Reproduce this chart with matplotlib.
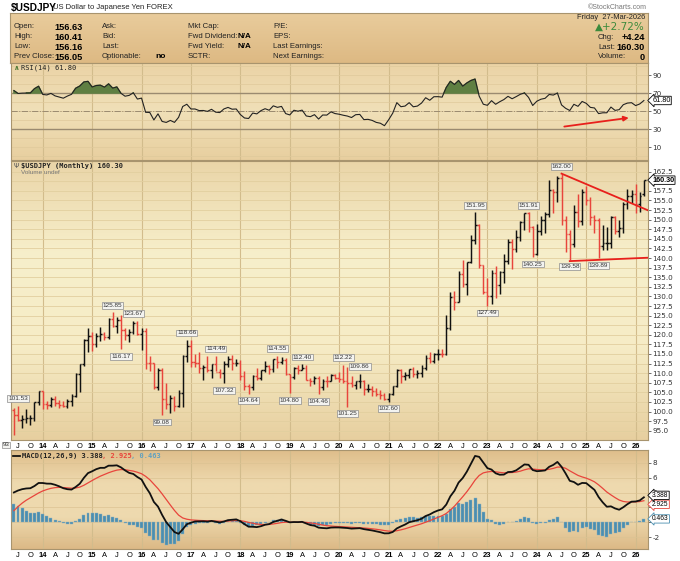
import numpy as np
import matplotlib.pyplot as plt
from matplotlib.colors import LinearSegmentedColormap

# monthly OHLC, Jun-2013 .. Mar-2026
opens = [100.45, 99.14, 97.87, 98.18, 98.26, 98.37, 102.44,
         105.31, 102.03, 101.80, 103.22, 102.22, 101.78, 101.33, 102.80, 104.08, 109.65, 112.31, 118.63,
         119.78, 117.49, 119.62, 120.12, 119.36, 124.12, 122.36, 123.94, 121.21, 119.86, 120.62, 123.08,
         120.22, 121.03, 112.68, 112.57, 106.52, 110.72, 103.20, 102.06, 103.43, 101.35, 104.82, 114.46,
         116.96, 112.79, 112.77, 111.39, 111.49, 110.78, 112.39, 110.26, 109.97, 112.51, 113.65, 112.53,
         112.67, 109.17, 106.67, 106.28, 109.34, 108.81, 110.70, 111.86, 111.03, 113.69, 112.92, 113.47,
         109.69, 108.88, 111.37, 110.86, 111.42, 108.28, 107.85, 108.76, 106.27, 108.08, 108.03, 109.48,
         108.66, 108.35, 107.89, 107.53, 106.90, 107.83, 107.93, 105.83, 105.91, 105.48, 104.66, 104.30,
         103.25, 104.68, 106.58, 110.72, 109.31, 109.59, 111.10, 109.72, 110.02, 111.29, 113.95, 113.17,
         115.08, 115.12, 114.99, 121.70, 129.84, 128.67, 135.72, 133.27, 138.96, 144.74, 148.71, 138.06,
         131.12, 130.09, 136.20, 132.86, 136.30, 139.34, 144.31, 142.29, 145.55, 149.37, 151.68, 148.21,
         141.04, 146.92, 149.98, 151.35, 157.80, 157.30, 160.88, 149.98, 146.17, 143.63, 152.03, 149.77,
         157.20, 155.18, 150.63, 149.96, 143.07, 144.02, 144.05, 150.72, 147.05, 147.90, 154.02, 156.17,
         156.70, 154.10, 156.63]
highs = [101.00, 101.53, 99.15, 100.62, 99.00, 102.59, 105.41,
         105.44, 102.84, 103.76, 104.13, 103.02, 102.80, 103.15, 104.49, 110.09, 112.47, 118.98, 121.85,
         120.83, 120.48, 122.03, 120.84, 124.45, 125.85, 124.58, 125.28, 121.75, 121.49, 123.67, 123.58,
         121.69, 121.70, 114.55, 112.68, 111.45, 111.43, 107.49, 104.32, 104.04, 105.53, 114.83, 118.66,
         118.61, 114.95, 115.51, 112.20, 114.37, 112.46, 114.49, 111.05, 113.26, 114.45, 114.73, 113.75,
         113.39, 110.48, 107.29, 109.56, 111.40, 110.90, 113.18, 112.15, 113.70, 114.55, 114.21, 113.83,
         109.90, 111.50, 112.14, 112.40, 112.00, 108.80, 109.32, 109.32, 108.48, 109.29, 109.73, 109.73,
         110.29, 112.22, 111.71, 109.38, 108.08, 109.86, 108.16, 107.05, 106.55, 106.11, 105.68, 104.75,
         104.95, 106.70, 110.96, 110.97, 110.20, 111.11, 111.66, 110.80, 112.08, 114.70, 115.52, 115.19,
         116.35, 116.34, 125.09, 131.25, 131.35, 136.71, 139.38, 139.07, 145.90, 151.95, 148.82, 138.18,
         134.77, 136.92, 137.91, 136.56, 140.93, 145.07, 144.91, 147.37, 149.71, 151.72, 151.91, 148.30,
         148.81, 150.89, 151.97, 160.21, 157.99, 161.27, 162.00, 150.89, 147.21, 153.88, 156.75, 158.08,
         158.87, 155.89, 151.30, 150.49, 148.65, 148.03, 150.91, 150.92, 149.96, 154.48, 157.89, 157.79,
         159.40, 157.20, 160.41]
lows = [93.79, 97.60, 95.81, 97.10, 96.56, 97.62, 101.61,
        100.76, 100.76, 101.20, 101.43, 100.82, 101.07, 100.98, 101.51, 103.77, 105.20, 111.80, 115.57,
        115.85, 116.87, 118.32, 118.52, 118.88, 122.01, 120.41, 116.17, 118.61, 118.07, 120.25, 119.96,
        115.98, 110.99, 110.67, 105.98, 105.55, 99.08, 100.68, 99.55, 100.09, 101.19, 101.20, 112.89,
        111.69, 111.59, 110.11, 108.13, 110.24, 108.82, 110.62, 108.61, 107.32, 111.65, 110.84, 111.88,
        108.28, 105.55, 104.64, 105.66, 108.11, 108.12, 110.28, 109.77, 110.38, 111.38, 112.30, 109.55,
        104.80, 108.50, 109.70, 110.83, 108.28, 106.78, 107.21, 104.46, 105.74, 106.48, 107.89, 108.43,
        107.65, 107.51, 101.25, 106.36, 105.99, 106.08, 104.19, 105.10, 104.00, 104.03, 103.18, 102.88,
        102.60, 104.41, 106.37, 107.48, 108.34, 108.62, 109.06, 108.72, 109.11, 110.82, 112.53, 112.55,
        113.47, 114.15, 114.65, 121.28, 126.36, 128.63, 132.51, 130.39, 138.76, 143.53, 137.50, 130.57,
        127.49, 128.08, 129.64, 130.63, 133.50, 138.43, 137.24, 141.51, 144.44, 147.31, 146.68, 140.25,
        140.81, 145.90, 146.48, 150.81, 151.86, 154.55, 148.51, 141.68, 139.58, 142.97, 148.01, 148.65,
        153.72, 148.57, 146.54, 139.89, 142.11, 142.11, 142.68, 146.21, 145.49, 146.60, 152.82, 154.38,
        151.80, 152.00, 156.16]
closes = [99.14, 97.87, 98.18, 98.26, 98.37, 102.44, 105.31,
          102.03, 101.80, 103.22, 102.22, 101.78, 101.33, 102.80, 104.08, 109.65, 112.31, 118.63, 119.78,
          117.49, 119.62, 120.12, 119.36, 124.12, 122.36, 123.94, 121.21, 119.86, 120.62, 123.08, 120.22,
          121.03, 112.68, 112.57, 106.52, 110.72, 103.20, 102.06, 103.43, 101.35, 104.82, 114.46, 116.96,
          112.79, 112.77, 111.39, 111.49, 110.78, 112.39, 110.26, 109.97, 112.51, 113.65, 112.53, 112.67,
          109.17, 106.67, 106.28, 109.34, 108.81, 110.70, 111.86, 111.03, 113.69, 112.92, 113.47, 109.69,
          108.88, 111.37, 110.86, 111.42, 108.28, 107.85, 108.76, 106.27, 108.08, 108.03, 109.48, 108.66,
          108.35, 107.89, 107.53, 106.90, 107.83, 107.93, 105.83, 105.91, 105.48, 104.66, 104.30, 103.25,
          104.68, 106.58, 110.72, 109.31, 109.59, 111.10, 109.72, 110.02, 111.29, 113.95, 113.17, 115.08,
          115.12, 114.99, 121.70, 129.84, 128.67, 135.72, 133.27, 138.96, 144.74, 148.71, 138.06, 131.12,
          130.09, 136.20, 132.86, 136.30, 139.34, 144.31, 142.29, 145.55, 149.37, 151.68, 148.21, 141.04,
          146.92, 149.98, 151.35, 157.80, 157.30, 160.88, 149.98, 146.17, 143.63, 152.03, 149.77, 157.20,
          155.18, 150.63, 149.96, 143.07, 144.02, 144.05, 150.72, 147.05, 147.90, 154.02, 156.17, 156.70,
          154.10, 156.05, 160.30]
# earlier closes (Jan-2009 .. May-2013) so the indicators are warmed up
warmup_closes = [89.9, 97.6, 98.9, 98.6, 95.3, 96.4, 94.7, 93.0, 89.7, 90.1, 86.3, 93.0,
                 90.27, 88.96, 93.46, 94.01, 91.23, 88.43, 86.46, 84.21, 83.46, 80.39, 83.68, 81.12,
                 82.04, 81.83, 83.13, 81.18, 81.50, 80.51, 76.75, 76.66, 77.06, 78.20, 77.61, 76.91,
                 76.26, 81.16, 82.86, 80.02, 78.31, 79.80, 78.10, 78.40, 77.94, 79.79, 82.48, 86.75,
                 91.70, 92.56, 94.22, 97.44, 100.45]

# labelled swing points: (bar index, value, side)
tags = [(1, 101.53, 'h'), (24, 125.85, 'h'), (26, 116.17, 'l'), (29, 123.67, 'h'),
        (36, 99.08, 'l'), (42, 118.66, 'h'), (49, 114.49, 'h'), (51, 107.32, 'l'),
        (57, 104.64, 'l'), (64, 114.55, 'h'), (67, 104.80, 'l'), (70, 112.40, 'h'),
        (74, 104.46, 'l'), (80, 112.22, 'h'), (81, 101.25, 'l'), (84, 109.86, 'h'),
        (91, 102.60, 'l'), (112, 151.95, 'h'), (115, 127.49, 'l'), (125, 151.91, 'h'),
        (126, 140.25, 'l'), (133, 162.00, 'h'), (135, 139.58, 'l'), (142, 139.89, 'l')]

# last indicator values as printed on the chart
rsi_last = 61.80
macd_last, signal_last, hist_last = 3.388, 2.925, 0.463

# hand drawn lines
upper_line = ([133, 154.3], [162.0, 152.3])
lower_line = ([135, 154.3], [139.2, 140.1])
rsi_arrow = ([133, 150], [32.5, 43.0])

header_left = [("Open:", "156.63"), ("High:", "160.41"), ("Low:", "156.16"), ("Prev Close:", "156.05")]
header_mid = ["Ask:", "Bid:", "Last:", "Optionable:"]
header_mid2 = [("Mkt Cap:", ""), ("Fwd Dividend:", "N/A"), ("Fwd Yield:", "N/A"), ("SCTR:", "")]
header_right = ["P/E:", "EPS:", "Last Earnings:", "Next Earnings:"]

UP, DOWN = '#111111', '#e8453c'
W, H = 680, 561


def ema(v, span):
    a = 2.0 / (span + 1)
    out = np.empty(len(v))
    out[0] = v[0]
    for k in range(1, len(v)):
        out[k] = a * v[k] + (1 - a) * out[k - 1]
    return out


def rsi(v, period=14):
    d = np.diff(v)
    g = np.clip(d, 0, None)
    l = np.clip(-d, 0, None)
    ag, al = g[:period].mean(), l[:period].mean()
    out = np.full(len(v), np.nan)
    out[period] = 100 - 100 / (1 + ag / al)
    for k in range(period, len(d)):
        ag = (ag * (period - 1) + g[k]) / period
        al = (al * (period - 1) + l[k]) / period
        out[k + 1] = 100 - 100 / (1 + ag / al)
    return out


n = len(closes)
x = np.arange(n)
allc = np.array(warmup_closes + closes)
rsi14 = rsi(allc)[-n:]
macd_all = ema(allc, 12) - ema(allc, 26)
sig_all = ema(macd_all, 9)
macd = macd_all[-n:]
signal = sig_all[-n:]
hist = macd - signal

fig = plt.figure(figsize=(W / 100, H / 100), dpi=100)
fig.patch.set_facecolor('white')


def panel(x0, y0, x1, y1, colors):
    ax = fig.add_axes([x0 / W, 1 - y1 / H, (x1 - x0) / W, (y1 - y0) / H])
    cmap = LinearSegmentedColormap.from_list('bg', colors)
    ax.imshow(np.linspace(0, 1, 256).reshape(-1, 1), cmap=cmap, aspect='auto',
              extent=[0, 1, 0, 1], transform=ax.transAxes, zorder=0)
    for s in ax.spines.values():
        s.set_color('#a8946e')
        s.set_linewidth(0.8)
    return ax


def fig_text(px, py, s, **kw):
    fig.text(px / W, 1 - py / H, s, va='center', **kw)


# ---- header ----
hdr = panel(10, 13, 648, 63, ['#e9cc9c', '#ddb983'])
hdr.set_xticks([]); hdr.set_yticks([])
hdr.set_xlim(0, 1); hdr.set_ylim(0, 1)
fig_text(11, 7.5, "$USDJPY", fontsize=7.3, fontweight='bold', family='Liberation Sans')
fig_text(53, 7.5, "US Dollar to Japanese Yen FOREX", fontsize=5.5, family='Liberation Sans', color='#222')
fig_text(647, 7.5, "\u00a9StockCharts.com", fontsize=5, ha='right', family='Liberation Sans', color='#777')
rows = [27, 37, 47, 57]
hf = dict(fontsize=5.6, family='Liberation Sans', color='#222')
for r, (lab, val) in zip(rows, header_left):
    fig_text(14, r, lab, **hf)
    fig_text(54, r, val, fontsize=6.6, fontweight='bold', family='Liberation Sans')
for r, lab in zip(rows, header_mid):
    fig_text(102, r, lab, **hf)
fig_text(155, 57, "no", fontsize=6, fontweight='bold', family='Liberation Sans')
for r, (lab, val) in zip(rows, header_mid2):
    fig_text(188, r, lab, **hf)
    if val:
        fig_text(237, r, val, fontsize=5.8, fontweight='bold', family='Liberation Sans')
for r, lab in zip(rows, header_right):
    fig_text(273, r, lab, **hf)
fig_text(645, 17.5, "Friday  27-Mar-2026", ha='right', fontsize=5.4, family='Liberation Sans', color='#222')
fig_text(645, 27, "\u25b2+2.72%", ha='right', fontsize=7.5, color='#3c8a3c', family='DejaVu Sans')
for r, lab, val in [(37.5, "Chg:", "+4.24"), (47.5, "Last:", "160.30"), (57, "Volume:", "0")]:
    fig_text(598, r, lab, **hf)
    fig_text(645, r, val, ha='right', fontsize=6.6, fontweight='bold', family='Liberation Sans')

year_idx = [i for i in range(n) if (i + 5) % 12 == 0]
quarter_idx = [i for i in range(n) if (i + 5) % 3 == 0]


def year_grid(ax):
    for i in year_idx:
        ax.axvline(i, color='#d2bc8c', lw=0.8, zorder=1)


def right_axis(ax, ticks, labels):
    ax.yaxis.tick_right()
    ax.set_yticks(ticks)
    ax.set_yticklabels(labels)
    ax.tick_params(axis='y', length=2, width=0.5, pad=1, labelsize=5.2, colors='#333')
    ax.set_xticks([])
    ax.set_xlim(-0.7, 154)


def tag(ax, val, text, ec, bold=False, size=5.2):
    ax.annotate(text, xy=(1, val), xycoords=('axes fraction', 'data'), xytext=(3, 0),
                textcoords='offset points', va='center', ha='left', fontsize=size,
                fontweight='bold' if bold else 'normal', family='Liberation Sans',
                bbox=dict(boxstyle='larrow,pad=0.1', fc='white', ec=ec, lw=0.6),
                annotation_clip=False, zorder=10)


def month_labels(ax):
    for i in quarter_idx:
        m = (i + 5) % 12 + 1
        if m == 1:
            s = "%02d" % ((2013 + (i + 5) // 12) % 100)
            w = 'bold'
        else:
            s = {4: 'A', 7: 'J', 10: 'O'}[m]
            w = 'normal'
        ax.annotate(s, xy=(i, 0), xycoords=('data', 'axes fraction'), xytext=(0, -4.6),
                    textcoords='offset points', ha='center', va='center', fontsize=5.4,
                    fontweight=w, family='Liberation Sans', annotation_clip=False)


# ---- RSI ----
ax_r = panel(11, 63, 648, 160, ['#ebd3a6', '#f0e0b8', '#e8cf9f'])
year_grid(ax_r)
for lv in range(0, 101, 10):
    ax_r.axhline(lv, color='#dfc99b', lw=0.5, zorder=1)
ax_r.axhline(70, color='#9a8a70', lw=1.0, zorder=2)
ax_r.axhline(30, color='#9a8a70', lw=1.0, zorder=2)
ax_r.axhline(50, color='#9a8a70', lw=0.7, ls='-.', zorder=2)
ax_r.fill_between(x, rsi14, 70, where=rsi14 > 70, interpolate=True, color='#5f7f42', zorder=3)
ax_r.plot(x, rsi14, color='#222', lw=0.8, zorder=4)
ax_r.annotate('', xy=(rsi_arrow[0][1], rsi_arrow[1][1]), xytext=(rsi_arrow[0][0], rsi_arrow[1][0]),
              arrowprops=dict(arrowstyle='-|>', color='#e8201c', lw=1.3, mutation_scale=7), zorder=5)
ax_r.set_ylim(-4.1, 103.3)
right_axis(ax_r, [10, 30, 50, 70, 90], ['10', '30', '50', '70', '90'])
tag(ax_r, rsi_last, "%.2f" % rsi_last, 'black')
ax_r.text(0.004, 0.95, "\u2227", transform=ax_r.transAxes, fontsize=5, color='#4f7a35',
          fontweight='bold', va='center')
ax_r.text(0.016, 0.95, "RSI(14) %.2f" % rsi_last, transform=ax_r.transAxes, fontsize=5,
          family='DejaVu Sans Mono', va='center', color='#222')

# ---- price ----
ax_p = panel(11, 161, 648, 440, ['#ead5a8', '#f7efcb', '#f6ecc6', '#e7cf9f'])
year_grid(ax_p)
for lv in np.arange(95, 165, 2.5):
    ax_p.axhline(lv, color='#e2cf9f', lw=0.6, zorder=1)
cols = [UP if c >= p else DOWN for c, p in zip(closes, [warmup_closes[-1]] + closes[:-1])]
ax_p.vlines(x, lows, highs, colors=cols, lw=1.05, zorder=3)
ax_p.hlines(opens, x - 0.42, x, colors=cols, lw=1.05, zorder=3)
ax_p.hlines(closes, x, x + 0.42, colors=cols, lw=1.05, zorder=3)
for i, v, side in tags:
    dy = 3.2 if side == 'h' else -3.2
    ax_p.annotate("%.2f" % v, xy=(i, v), xytext=(0, dy), textcoords='offset points',
                  ha='center', va='bottom' if side == 'h' else 'top', fontsize=4.6,
                  family='Liberation Sans', color='#333', zorder=6,
                  bbox=dict(boxstyle='square,pad=0.15', fc='#f3f3f0', ec='#8c8c8c', lw=0.5))
ax_p.plot(*upper_line, color='#e8201c', lw=1.3, zorder=5)
ax_p.plot(*lower_line, color='#e8201c', lw=1.3, zorder=5)
ax_p.set_ylim(92.58, 165.29)
price_ticks = list(np.arange(95, 162.6, 2.5))
# the 160.0 label sits under the last-value tag
right_axis(ax_p, price_ticks, ['' if abs(t - 160) < 0.1 else '%.1f' % t for t in price_ticks])
tag(ax_p, closes[-1], "%.2f" % closes[-1], 'black', bold=True)
month_labels(ax_p)
ax_p.text(0.004, 0.982, "\u03a8", transform=ax_p.transAxes, fontsize=5, color='#555', va='center')
ax_p.text(0.016, 0.982, "$USDJPY (Monthly) 160.30", transform=ax_p.transAxes, fontsize=5,
          family='DejaVu Sans Mono', fontweight='bold', va='center', color='#222')
ax_p.text(0.016, 0.957, "Volume undef", transform=ax_p.transAxes, fontsize=4.6,
          family='Liberation Sans', va='center', color='#777')
fig_text(3, 445, "93", fontsize=4.4, family='Liberation Sans', color='#333',
         bbox=dict(boxstyle='square,pad=0.1', fc='#f3f3f0', ec='#8c8c8c', lw=0.5))

# ---- MACD ----
ax_m = panel(11, 450, 648, 549, ['#dfbe8b', '#eed9ae', '#eedaaf', '#dcb986'])
year_grid(ax_m)
for lv in range(-2, 10, 2):
    ax_m.axhline(lv, color='#dcc393', lw=0.5, zorder=1)
ax_m.bar(x, hist, width=0.72, color='#4b8fb0', edgecolor='#8fb0bf', lw=0.3, zorder=3)
ax_m.plot(x, signal, color='#e8453c', lw=0.9, zorder=4)
ax_m.plot(x, macd, color='#111', lw=1.3, zorder=5)
ax_m.set_ylim(-3.57, 9.7)
# labels hidden by the value tags are left blank
right_axis(ax_m, [-2, 0, 2, 4, 6, 8], ['-2', '', '', '4', '6', '8'])
tag(ax_m, macd_last + 0.05, "%.3f" % signal_last, '#e8453c', size=4.8)
ax_m.texts[-1].set_position((3, -5.5))
tag(ax_m, macd_last + 0.05, "%.3f" % macd_last, 'black', size=4.8)
ax_m.texts[-1].set_position((3, 1.0))
tag(ax_m, hist_last, "%.3f" % hist_last, '#4b8fb0', size=4.8)
month_labels(ax_m)
ax_m.plot([0.003, 0.014], [0.94, 0.94], transform=ax_m.transAxes, color='#111', lw=1.3)
mf = dict(transform=ax_m.transAxes, fontsize=5, family='DejaVu Sans Mono', fontweight='bold', va='center')
ax_m.text(0.018, 0.94, "MACD(12,26,9) %.3f" % macd_last, color='#222', **mf)
cw = 0.602 * 5 / 72 * 100 / 637
ax_m.text(0.018 + 19 * cw, 0.94, ", %.3f" % signal_last, color='#e8453c', **mf)
ax_m.text(0.018 + 26 * cw, 0.94, ", %.3f" % hist_last, color='#5fa0c0', **mf)

fig.savefig('out.png', dpi=100)
